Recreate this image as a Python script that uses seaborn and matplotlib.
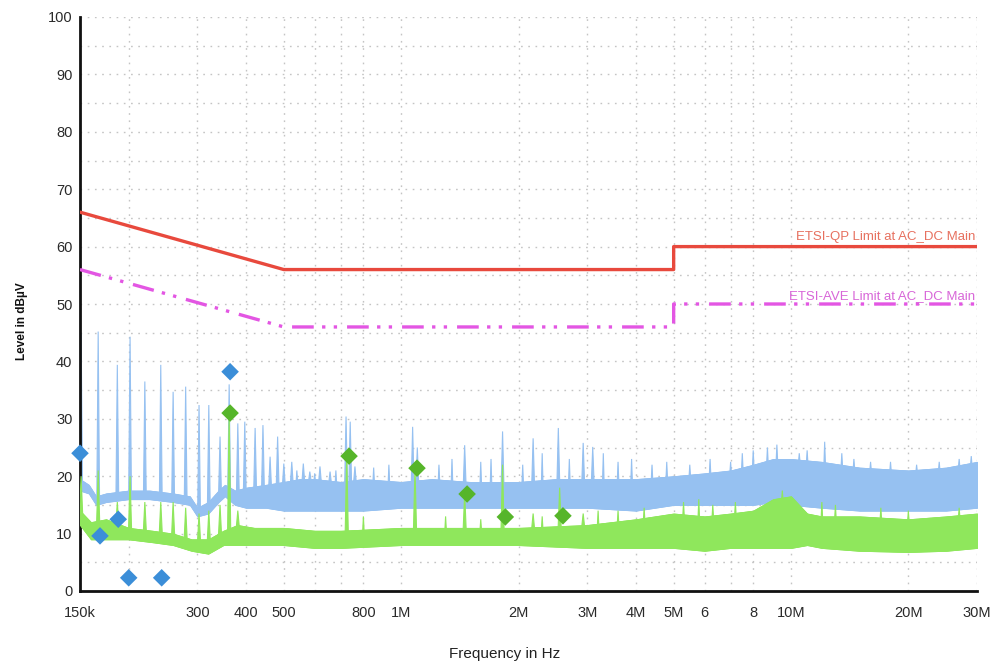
import numpy as np
import matplotlib
matplotlib.use("Agg")
import matplotlib.pyplot as plt
import seaborn as sns
from matplotlib.ticker import FixedLocator, FixedFormatter, NullLocator

# ---------------- data ----------------
limit_freq = [150e3, 500e3, 5e6, 5e6, 30e6]
qp_limit = [66, 56, 56, 60, 60]
ave_limit = [56, 46, 46, 50, 50]

qp_meas_freq = [150e3, 168.8e3, 188e3, 200e3, 243e3, 364e3]
qp_meas_level = [24.0, 9.6, 12.5, 2.3, 2.3, 38.2]
av_meas_freq = [364e3, 735e3, 1.098e6, 1.476e6, 1.85e6, 2.6e6]
av_meas_level = [31.0, 23.5, 21.4, 16.9, 12.9, 13.1]

# peak trace (blue): envelope of the noise floor
blue_band_freq = [150e3, 158e3, 165e3, 175e3, 200e3, 226e3, 260e3, 287e3, 300e3, 320e3,
                  340e3, 353e3, 375e3, 400e3, 450e3, 500e3, 550e3, 600e3, 700e3, 800e3,
                  1e6, 1.2e6, 1.5e6, 2e6, 2.5e6, 3e6, 4e6, 5e6, 6e6, 7e6,
                  8e6, 9e6, 10e6, 12e6, 15e6, 20e6, 25e6, 30e6]
blue_band_lo = [17.5, 17.0, 15.0, 15.5, 16.0, 16.0, 15.5, 15.0, 13.0, 13.5,
                15.5, 16.5, 15.0, 14.5, 14.5, 14.0, 14.0, 14.0, 14.0, 14.0,
                14.5, 14.5, 14.5, 14.5, 14.5, 14.5, 14.0, 15.0, 15.0, 15.0,
                15.0, 15.5, 15.0, 14.5, 14.0, 14.0, 14.0, 14.5]
blue_band_hi = [19.5, 18.5, 16.5, 17.0, 17.5, 17.5, 17.0, 16.5, 14.5, 15.5,
                17.5, 18.5, 17.5, 18.0, 18.5, 19.0, 19.5, 19.5, 19.0, 19.5,
                19.0, 19.5, 19.0, 19.0, 19.5, 19.5, 19.5, 20.0, 20.5, 21.0,
                22.0, 23.0, 23.0, 22.5, 21.5, 21.0, 21.5, 22.5]
# harmonic peaks of the blue trace
blue_spike_freq = [151e3, 167e3, 187e3, 201.6e3, 220e3, 241.7e3, 260e3, 280e3, 303e3, 321e3,
                   343e3, 362e3, 381e3, 397e3, 422e3, 442e3, 461e3, 482e3, 500e3, 524e3,
                   561e3, 583e3, 619e3, 657e3, 722e3, 740e3, 761e3, 1.07e6, 1.1e6, 1.455e6,
                   1.82e6, 2.18e6, 2.53e6, 2.93e6, 3.1e6]
blue_spike_top = [45.0, 45.2, 39.4, 44.3, 36.5, 39.4, 34.7, 35.6, 32.4, 32.4,
                  26.9, 36.0, 29.2, 29.5, 28.4, 28.9, 23.4, 26.9, 22.2, 22.5,
                  22.2, 20.8, 21.7, 20.8, 30.4, 29.5, 21.7, 28.6, 25.0, 25.4,
                  27.8, 26.6, 28.4, 25.8, 25.1]
# small noise peaks on top of the blue band
blue_noise_freq = [540e3, 600e3, 680e3, 850e3, 930e3, 1.25e6, 1.35e6, 1.6e6, 1.7e6, 2.05e6,
                   2.3e6, 2.7e6, 3.3e6, 3.6e6, 3.9e6, 4.4e6, 4.8e6, 5.5e6, 6.2e6, 7.0e6,
                   7.5e6, 8.0e6, 8.7e6, 9.2e6, 10.5e6, 11e6, 12.2e6, 13.5e6, 14.5e6, 16e6,
                   18e6, 21e6, 24e6, 27e6, 29e6]
blue_noise_top = [21.0, 20.5, 21.0, 21.5, 22.0, 22.0, 23.0, 22.5, 23.0, 22.0,
                  24.0, 23.0, 24.0, 22.5, 23.0, 22.0, 22.5, 22.0, 23.0, 22.5,
                  24.0, 24.5, 25.0, 25.5, 24.0, 24.5, 26.0, 24.0, 23.0, 22.5,
                  22.5, 22.0, 22.5, 23.0, 23.5]

# average trace (green): envelope of the noise floor
green_band_freq = [150e3, 160e3, 175e3, 200e3, 230e3, 260e3, 290e3, 320e3, 350e3, 380e3,
                   420e3, 500e3, 600e3, 700e3, 1e6, 1.5e6, 2e6, 3e6, 4e6, 5e6,
                   6e6, 7e6, 8e6, 9e6, 10e6, 11e6, 12e6, 15e6, 20e6, 25e6, 30e6]
green_band_lo = [11.5, 9.0, 9.0, 9.0, 8.5, 8.0, 7.0, 6.5, 8.0, 8.0,
                 8.0, 8.0, 7.5, 7.5, 8.0, 8.0, 8.0, 7.5, 7.5, 7.5,
                 7.0, 7.5, 7.5, 7.5, 7.5, 8.0, 7.5, 7.0, 6.8, 7.0, 7.5]
green_band_hi = [14.0, 12.0, 12.5, 11.0, 10.5, 10.0, 9.0, 9.0, 10.5, 11.5,
                 11.0, 11.0, 10.5, 10.5, 11.0, 11.0, 11.0, 11.5, 12.5, 13.5,
                 13.0, 13.5, 14.0, 16.0, 16.5, 13.5, 13.0, 13.0, 12.5, 13.0, 13.5]
green_spike_freq = [151e3, 167e3, 187e3, 201.6e3, 220e3, 241.7e3, 260e3, 280e3, 303e3, 321e3,
                    343e3, 362e3, 381e3, 725e3, 1.085e6, 1.455e6, 1.82e6, 2.18e6, 2.55e6, 2.93e6]
green_spike_top = [20.0, 21.0, 15.5, 20.0, 15.5, 15.5, 15.5, 14.5, 13.5, 14.0,
                   15.0, 31.0, 14.0, 24.0, 21.5, 17.0, 22.0, 13.5, 18.0, 13.5]
green_noise_freq = [800e3, 1.3e6, 1.6e6, 2.3e6, 3.2e6, 3.6e6, 4.2e6, 5.3e6, 5.8e6, 6.3e6,
                    7.2e6, 9.5e6, 12e6, 13e6, 17e6, 20e6, 27e6]
green_noise_top = [13.0, 13.0, 12.5, 13.0, 14.0, 14.0, 14.5, 15.5, 16.0, 15.0,
                   15.5, 17.5, 15.5, 15.0, 14.5, 14.0, 14.5]

tick_freq = [150e3, 200e3, 300e3, 400e3, 500e3, 600e3, 700e3, 800e3, 1e6, 2e6,
             3e6, 4e6, 5e6, 6e6, 7e6, 8e6, 10e6, 20e6, 30e6]
tick_labels = ["150k", "", "300", "400", "500", "", "", "800", "1M", "2M",
               "3M", "4M", "5M", "6", "", "8", "10M", "20M", "30M"]

# ---------------- styling ----------------
sns.set_style("white")
plt.rcParams["font.family"] = ["Liberation Sans", "DejaVu Sans"]

BLUE = "#96c1f1"
GREEN = "#8fe75c"
QP_RED = "#e8493d"
AVE_MAG = "#e356e3"
BLUE_D = "#3b8ed8"
GREEN_D = "#56b52a"

fig = plt.figure(figsize=(10.03, 6.68), dpi=100)
ax = fig.add_axes([80 / 1003, 77 / 668, 897 / 1003, 574 / 668])
ax.set_xscale("log")


def draw_trace(band_f, lo, hi, spike_f, spike_top, color, half_width, zorder):
    ax.fill_between(band_f, lo, hi, color=color, lw=0.6, edgecolor=color, zorder=zorder)
    lf = np.log10(band_f)
    for f, top in zip(spike_f, spike_top):
        base = np.interp(np.log10(f), lf, hi) - 0.5
        xs = [f * 10 ** (-half_width), f, f * 10 ** (half_width)]
        ax.fill(xs, [base, top, base], color=color, lw=0.8, edgecolor=color, zorder=zorder)


draw_trace(blue_band_freq, blue_band_lo, blue_band_hi, blue_spike_freq, blue_spike_top,
           BLUE, 0.0035, 2)
draw_trace(blue_band_freq, blue_band_lo, blue_band_hi, blue_noise_freq, blue_noise_top,
           BLUE, 0.002, 2)
draw_trace(green_band_freq, green_band_lo, green_band_hi, green_spike_freq, green_spike_top,
           GREEN, 0.004, 3)
draw_trace(green_band_freq, green_band_lo, green_band_hi, green_noise_freq, green_noise_top,
           GREEN, 0.002, 3)

# limit lines
sns.lineplot(x=limit_freq, y=qp_limit, sort=False, estimator=None, color=QP_RED,
             lw=2.4, ax=ax, zorder=4)
sns.lineplot(x=limit_freq, y=ave_limit, sort=False, estimator=None, color=AVE_MAG,
             lw=2.4, ax=ax, zorder=4)
ax.lines[-1].set_dashes((6.5, 2.5, 1, 2.5, 1, 3))
ax.lines[-1].set_dash_capstyle("butt")

# final measurement markers
sns.scatterplot(x=qp_meas_freq, y=qp_meas_level, marker="D", s=80, color=BLUE_D,
                edgecolor="none", ax=ax, zorder=6, clip_on=False)
sns.scatterplot(x=av_meas_freq, y=av_meas_level, marker="D", s=80, color=GREEN_D,
                edgecolor="none", ax=ax, zorder=6, clip_on=False)

ax.text(29.7e6, 60.7, "ETSI-QP Limit at AC_DC Main", color="#e7705f", fontsize=9.5,
        ha="right", va="bottom", zorder=5)
ax.text(29.7e6, 50.3, "ETSI-AVE Limit at AC_DC Main", color="#d866d8", fontsize=9.5,
        ha="right", va="bottom", zorder=5)

# axes
ax.set_xlim(150e3, 30e6)
ax.set_ylim(0, 100)
ax.xaxis.set_major_locator(FixedLocator(tick_freq))
ax.xaxis.set_major_formatter(FixedFormatter(tick_labels))
ax.xaxis.set_minor_locator(NullLocator())
ax.set_yticks(range(0, 101, 10))
ax.set_yticks(range(5, 100, 10), minor=True)

ax.grid(True, which="both", axis="y", color="#c4c4c4", linestyle=(0, (1.2, 4)), lw=1.0, zorder=0)
ax.grid(True, which="major", axis="x", color="#c4c4c4", linestyle=(0, (1.2, 4)), lw=1.0, zorder=0)
ax.set_axisbelow(True)

for side in ["top", "right"]:
    ax.spines[side].set_visible(False)
for side in ["left", "bottom"]:
    ax.spines[side].set_color("#111111")
    ax.spines[side].set_linewidth(2.0)

ax.tick_params(axis="both", which="both", direction="inout", length=9, width=1.6,
               color="#111111", labelsize=10.5, labelcolor="#2a2a2a")
ax.tick_params(axis="x", pad=6)
ax.tick_params(axis="y", pad=1)

ax.set_xlabel("Frequency in Hz", fontsize=11, color="#222222")
ax.xaxis.set_label_coords((505 - 80) / 897, -0.098)
ax.set_ylabel("Level in dBµV", fontsize=8.5, fontweight="bold", color="#111111")
ax.yaxis.set_label_coords(-0.058, 0.47)

fig.savefig("out.png", dpi=100, facecolor="white")
